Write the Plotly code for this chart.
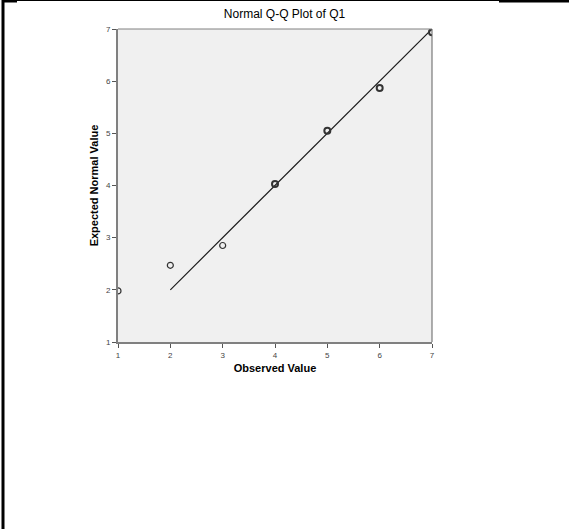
import plotly.graph_objects as go

# Data
observed = [1, 2, 3, 4, 5, 6, 7]
expected = [1.98, 2.47, 2.85, 4.03, 5.05, 5.87, 6.94]
marker_widths = [1.2, 1.2, 1.2, 2.0, 2.0, 2.0, 2.0]
line_x = [2, 7]
line_y = [2, 7]
ticks = [1, 2, 3, 4, 5, 6, 7]

W, H = 569, 529
L, R, T, B = 118, 137, 29, 187
pw, ph = W - L - R, H - T - B

def px(x):
    return (x - L) / pw

def py(y):
    return (H - B - y) / ph

fig = go.Figure()
fig.add_trace(go.Scatter(x=line_x, y=line_y, mode="lines",
                         line=dict(color="#1a1a1a", width=1.2), hoverinfo="skip"))
fig.add_trace(go.Scatter(x=observed, y=expected, mode="markers",
                         marker=dict(symbol="circle-open", size=6, color="#333333",
                                     line=dict(width=marker_widths, color="#333333")),
                         cliponaxis=True))

axis_common = dict(range=[1, 7], tickvals=ticks, ticks="outside", ticklen=4,
                   tickcolor="#555555", tickwidth=1, showgrid=False, zeroline=False,
                   showline=True, linecolor="#808080", linewidth=2, mirror=False,
                   tickfont=dict(family="Arial", size=8, color="#444444"))

fig.update_layout(
    width=W, height=H, autosize=False,
    margin=dict(l=L, r=R, t=T, b=B, pad=0),
    paper_bgcolor="white", plot_bgcolor="#F0F0F0",
    showlegend=False,
    title=dict(text="Normal Q-Q Plot of Q1", x=px(275), xanchor="center",
               y=1 - 14 / H, yanchor="middle",
               font=dict(family="Arial", size=12, color="#000000")),
    xaxis=dict(axis_common, title=dict(text="<b>Observed Value</b>", standoff=6,
                                        font=dict(family="Arial", size=11, color="#000000"))),
    yaxis=dict(axis_common, title=dict(text="<b>Expected Normal Value</b>", standoff=5,
                                        font=dict(family="Arial", size=11, color="#000000"))),
)

shapes = [
    # thin top/right frame of plot area
    dict(type="line", xref="paper", yref="paper", x0=0, x1=1, y0=1, y1=1,
         line=dict(color="#808080", width=1)),
    dict(type="line", xref="paper", yref="paper", x0=1, x1=1, y0=0, y1=1,
         line=dict(color="#606060", width=1)),
    # page border lines
    dict(type="line", xref="paper", yref="paper", x0=px(3), x1=px(3), y0=py(0), y1=py(H),
         line=dict(color="black", width=3)),
    dict(type="line", xref="paper", yref="paper", x0=px(17), x1=px(499), y0=py(0.5), y1=py(0.5),
         line=dict(color="black", width=1)),
    dict(type="line", xref="paper", yref="paper", x0=px(2), x1=px(17), y0=py(1), y1=py(1),
         line=dict(color="black", width=3)),
    dict(type="line", xref="paper", yref="paper", x0=px(499), x1=px(W), y0=py(1), y1=py(1),
         line=dict(color="black", width=3)),
]
fig.update_layout(shapes=shapes)

fig.write_html("out.html")
